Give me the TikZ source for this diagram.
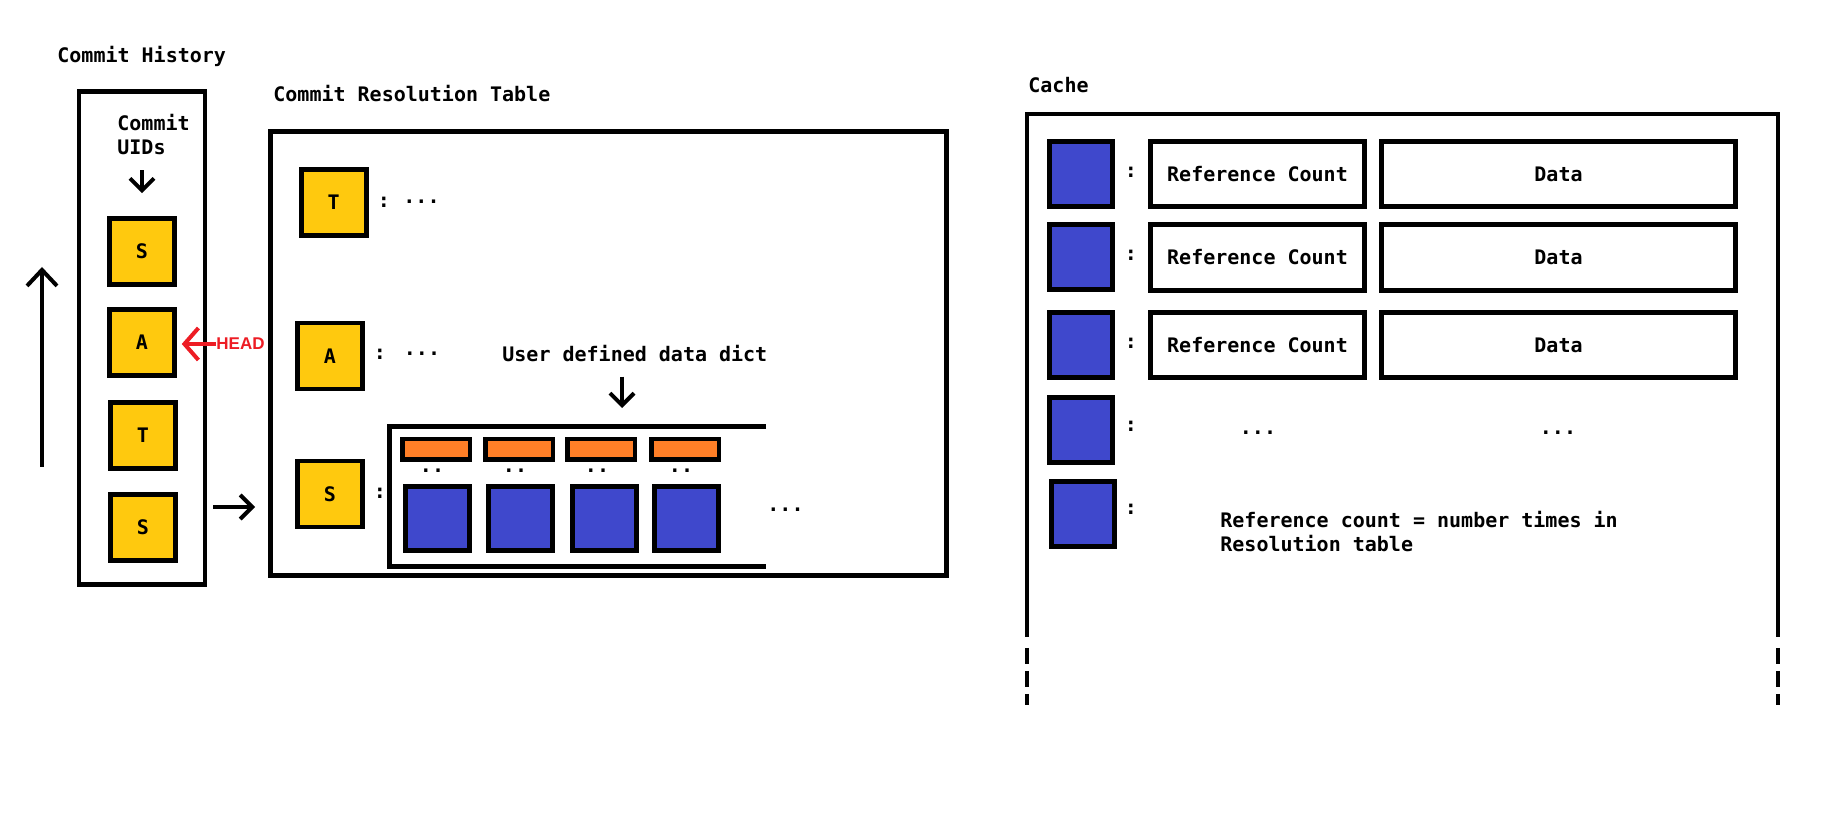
\documentclass[tikz,border=0pt]{standalone}
\usepackage{fontspec}
\setmainfont{DejaVu Sans}
\setmonofont{DejaVu Sans Mono}
\newfontfamily\headfont{Liberation Sans}
\usepackage{tikz}
\usetikzlibrary{arrows.meta}
\definecolor{uidyellow}{HTML}{FFC90E}
\definecolor{keyorange}{HTML}{FF7F27}
\definecolor{valblue}{HTML}{3F48CC}
\definecolor{headred}{HTML}{ED1C24}
\tikzset{
  lbl/.style={inner sep=0pt, font=\ttfamily\bfseries\fontsize{10pt}{12pt}\selectfont},
  lblb/.style={inner sep=0pt, font=\ttfamily\bfseries\fontsize{10pt}{12pt}\selectfont},
  headlbl/.style={inner sep=0pt, text=headred, font=\headfont\bfseries\fontsize{8.5pt}{10pt}\selectfont},
  uid/.style={draw, fill=uidyellow, line width=2.25pt, minimum width=32.5pt, minimum height=33pt,
    inner sep=0pt, font=\ttfamily\bfseries\fontsize{10pt}{12pt}\selectfont},
  valbox/.style={draw, fill=valblue, line width=2.5pt, minimum width=32pt, minimum height=32pt, inner sep=0pt},
  cachekey/.style={minimum width=31.5pt, minimum height=32.5pt},
  keybox/.style={draw, fill=keyorange, line width=2.25pt, minimum width=33.75pt, minimum height=10.25pt, inner sep=0pt},
  cell/.style={draw, line width=2.5pt, inner sep=0pt, minimum height=32.75pt,
    font=\ttfamily\bfseries\fontsize{10pt}{12pt}\selectfont},
  bigbox/.style={draw, line width=2.25pt, inner sep=0pt},
  pointer/.style={line width=2pt, -{Straight Barb[length=6pt,width=12pt]}}
}
\begin{document}
\begin{tikzpicture}[x=0.5pt, y=-0.5pt]
  \useasboundingbox (0,0) rectangle (1837,833);

  % commit history
  \node[lblb, anchor=base west] (histtitle) at (57,63) {Commit History};
  \node[bigbox, minimum width=63pt, minimum height=246.5pt] (history) at (142,338) {};
  \node[lblb, anchor=north west, align=left] (uids) at (117,113.5) {Commit\\UIDs};
  \node[uid] (s1) at (142,251.5) {S};
  \node[uid] (a1) at (142,342.5) {A};
  \node[uid] (t1) at (143,435.5) {T};
  \node[uid] (s2) at (143,527.5) {S};
  \draw[pointer, shorten <=7.6pt, shorten >=11.5pt] (uids.south -| s1.north) -- (s1.north);

  \coordinate (older) at (42,467);
  \coordinate (newer) at (42,267);
  \draw[pointer, -{Straight Barb[length=8pt,width=15pt]}] (older) -- (newer);

  \node[headlbl, anchor=west] (head) at (216,344) {HEAD};
  \draw[pointer, headred, -{Straight Barb[length=7pt,width=16pt]}, shorten >=2.5pt]
    (head.west) -- (head.west -| a1.east);

  % resolution table
  \node[lbl, anchor=base west] (tabletitle) at (273,102) {Commit Resolution Table};
  \node[bigbox, line width=2.5pt, minimum width=338pt, minimum height=222pt] (table) at (608.5,353.5) {};
  \draw[pointer, shorten <=2.9pt, shorten >=6.5pt] (history.east |- 0,507) -- (table.west |- 0,507);

  \node[uid] (t2) at (333.75,202.5) {T};
  \node[lblb] (t2colon) at (384,202) {:};
  \node[lblb] (t2dots) at (421.5,202) {...};
  \node[uid] (a2) at (330,356) {A};
  \node[lblb] (a2colon) at (380,354) {:};
  \node[lblb] (a2dots) at (422,354) {...};
  \node[uid] (s3) at (330,494) {S};
  \node[lblb] (s3colon) at (380,493) {:};

  \node[lbl, anchor=base west] (dictlbl) at (502,362) {User defined data dict};
  \coordinate (dicttop) at (622,427);
  \draw[pointer, shorten <=7pt, shorten >=9.5pt] (dictlbl.south -| dicttop) -- (dicttop);
  \draw[line width=2.5pt] (766,427) -- (389,427) -- (389,567) -- (766,567);
  \foreach \k/\kx/\vx in {1/436/437.5, 2/519/520.5, 3/601/604.5, 4/685/686.5} {
    \node[keybox] (key\k) at (\kx,449.5) {};
    \node[lblb] (gap\k) at (\kx-4,471) {..};
    \node[valbox] (val\k) at (\vx,518.5) {};
  }
  \node[lblb] (moredots) at (785.5,510) {...};

  % cache
  \node[lbl, anchor=base west] (cachetitle) at (1028,93) {Cache};
  \draw[line width=2pt] (1027,637) -- (1027,114) -- (1778,114) -- (1778,637);
  \draw[line width=2pt, dash pattern=on 8pt off 3.5pt] (1027,648) -- (1027,705);
  \draw[line width=2pt, dash pattern=on 8pt off 3.5pt] (1778,648) -- (1778,705);

  \foreach \r/\ry in {1/174, 2/257.5, 3/345} {
    \node[valbox, cachekey] (ckey\r) at (1081,\ry) {};
    \node[lblb] (ccolon\r) at (1131,\ry-2) {:};
    \node[cell, minimum width=107pt] (count\r) at (1257.5,\ry) {Reference Count};
    \node[cell, minimum width=177pt] (data\r) at (1558.5,\ry) {Data};
  }
  \node[valbox, cachekey] (ckey4) at (1081,430.5) {};
  \node[lblb] (ccolon4) at (1131,426) {:};
  \node[lblb] (countdots) at (1258,433) {...};
  \node[lblb] (datadots) at (1558,433) {...};
  \node[valbox, cachekey] (ckey5) at (1083,514) {};
  \node[lblb] (ccolon5) at (1131,509) {:};
  \node[lblb, anchor=north west, align=left] (note) at (1220,511)
    {Reference count = number times in\\Resolution table};
\end{tikzpicture}
\end{document}
